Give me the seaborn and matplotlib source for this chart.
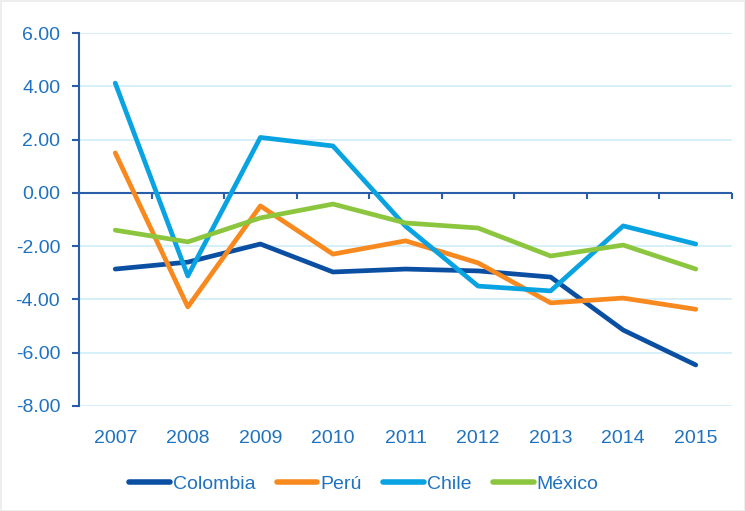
import matplotlib

matplotlib.use("Agg")
import matplotlib.pyplot as plt
import pandas as pd
import seaborn as sns

years = [2007, 2008, 2009, 2010, 2011, 2012, 2013, 2014, 2015]
colombia = [-2.86, -2.60, -1.92, -2.97, -2.86, -2.93, -3.16, -5.15, -6.46]
peru = [1.50, -4.28, -0.49, -2.30, -1.80, -2.63, -4.13, -3.95, -4.37]
chile = [4.12, -3.12, 2.08, 1.76, -1.25, -3.50, -3.68, -1.24, -1.92]
mexico = [-1.40, -1.84, -0.94, -0.42, -1.13, -1.32, -2.37, -1.96, -2.86]
countries = ["Colombia", "Perú", "Chile", "México"]
y_ticks = [-8, -6, -4, -2, 0, 2, 4, 6]

palette = {
    "Colombia": "#0B4FA3",
    "Perú": "#F7891F",
    "Chile": "#0AA3E2",
    "México": "#8CC63F",
}
text_blue = "#1F72C0"
axis_blue = "#2A5DAA"
grid_blue = "#CFECF8"

df = pd.DataFrame({
    "year": years * 4,
    "value": colombia + peru + chile + mexico,
    "country": [c for c in countries for _ in years],
})

sns.set_theme(style="white")
plt.rcParams["font.family"] = ["Liberation Sans", "DejaVu Sans"]

fig = plt.figure(figsize=(7.45, 5.11), dpi=100)
ax = fig.add_axes([0.106, 0.2055, 0.8766, 0.7299])

ax.yaxis.grid(True, color=grid_blue, linewidth=1.2)
ax.set_axisbelow(True)

sns.lineplot(data=df, x="year", y="value", hue="country", hue_order=countries,
             palette=palette, linewidth=3.4, ax=ax, legend=False,
             solid_capstyle="round", zorder=3)

ax.set_xlim(2006.5, 2015.5)
ax.set_ylim(-8, 6)
ax.set_yticks(y_ticks)
ax.set_yticklabels([f"{v:.2f}" for v in y_ticks])
ax.set_xticks(years)
ax.set_xticklabels([str(y) for y in years])
ax.set_xlabel("")
ax.set_ylabel("")

for side in ["top", "right", "bottom"]:
    ax.spines[side].set_visible(False)
ax.spines["left"].set_color(axis_blue)
ax.spines["left"].set_linewidth(1.5)
ax.tick_params(axis="y", colors=axis_blue, labelcolor=text_blue, labelsize=14,
               length=5, width=1.5, direction="out", left=True, pad=8.5)
ax.tick_params(axis="x", labelcolor=text_blue, labelsize=14, length=0, pad=17)

# category axis line at zero with ticks between the years
boundaries = [y - 0.5 for y in years] + [years[-1] + 0.5]
ax.axhline(0, color=axis_blue, linewidth=1.5, zorder=2)
ax.vlines(boundaries, -0.22, 0, color=axis_blue, linewidth=1.5, zorder=2,
          clip_on=False)

handles = [plt.Line2D([], [], color=palette[c], linewidth=4, solid_capstyle="round")
           for c in countries]
leg = fig.legend(handles, countries, loc="center", bbox_to_anchor=(0.488, 0.052),
                 ncol=4, frameon=False, fontsize=14, handlelength=2.1,
                 handletextpad=0.15, columnspacing=1.1)
for t in leg.get_texts():
    t.set_color(text_blue)

fig.patch.set_edgecolor("#EEEEEE")
fig.patch.set_linewidth(2)

fig.savefig("out.png", dpi=100)
